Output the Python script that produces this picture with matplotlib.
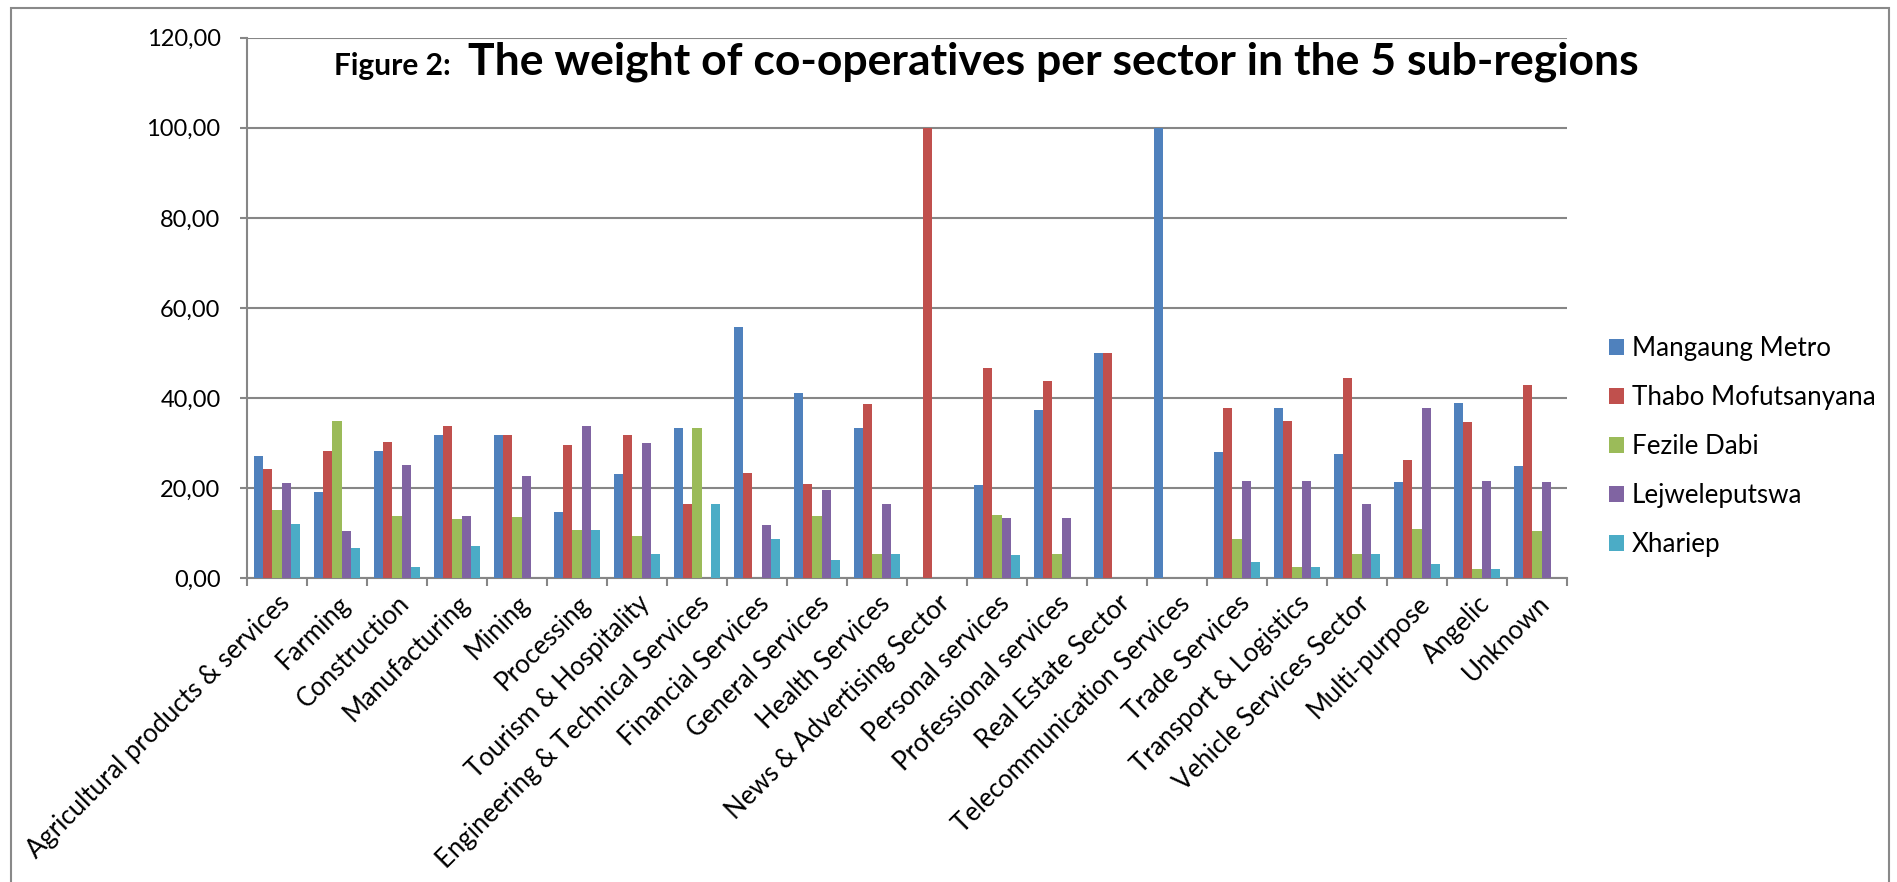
import numpy as np
import matplotlib
matplotlib.use('Agg')
import matplotlib.pyplot as plt
from matplotlib.patches import Rectangle
from matplotlib.ticker import FuncFormatter, MultipleLocator

plt.rcParams['font.family'] = ['Lato', 'DejaVu Sans']

# sectors along the x axis
categories = ['Agricultural products & services', 'Farming', 'Construction', 'Manufacturing',
              'Mining', 'Processing', 'Tourism & Hospitality', 'Engineering & Technical Services',
              'Financial Services', 'General Services', 'Health Services', 'News & Advertising Sector',
              'Personal services', 'Professional services', 'Real Estate Sector',
              'Telecommunication Services', 'Trade Services', 'Transport & Logistics',
              'Vehicle Services Sector', 'Multi-purpose', 'Angelic', 'Unknown']

# weight (%) per sub-region
mangaung = [27.1, 19.1, 28.2, 31.9, 31.7, 14.8, 23.1, 33.3, 55.8, 41.1, 33.3, 0,
            20.6, 37.3, 50.0, 100.0, 28.0, 37.8, 27.7, 21.4, 39.0, 24.9]
thabo = [24.2, 28.2, 30.2, 33.8, 31.7, 29.7, 31.8, 16.6, 23.4, 20.9, 38.8, 100.0,
         46.6, 43.9, 50.0, 0, 37.9, 35.0, 44.4, 26.2, 34.8, 42.8]
fezile = [15.1, 35.0, 13.8, 13.2, 13.6, 10.7, 9.5, 33.3, 0, 13.8, 5.5, 0,
          14.0, 5.3, 0, 0, 8.7, 2.6, 5.5, 10.9, 2.1, 10.6]
lejwe = [21.1, 10.6, 25.1, 13.8, 22.6, 33.7, 30.0, 0, 11.8, 19.7, 16.6, 0,
         13.3, 13.3, 0, 0, 21.6, 21.6, 16.6, 37.8, 21.7, 21.4]
xhariep = [12.1, 6.7, 2.4, 7.1, 0, 10.7, 5.4, 16.6, 8.7, 4.1, 5.5, 0,
           5.1, 0, 0, 0, 3.7, 2.6, 5.5, 3.2, 2.1, 0]

regions = ['Mangaung Metro', 'Thabo Mofutsanyana', 'Fezile Dabi', 'Lejweleputswa', 'Xhariep']
series = [mangaung, thabo, fezile, lejwe, xhariep]
colors = ['#4F81BD', '#C0504D', '#9BBB59', '#8064A2', '#4BACC6']

grey = '#868686'

fig = plt.figure(figsize=(18.97, 8.82), dpi=100)
ax = fig.add_axes([247 / 1897, 1 - 578.3 / 882, 1320 / 1897, 540.6 / 882])

x = np.arange(len(categories)) + 0.5
w = 0.152
for i, (vals, name, c) in enumerate(zip(series, regions, colors)):
    ax.bar(x + (i - 2) * w, vals, width=w, color=c, label=name, zorder=3)

ax.set_xlim(0, len(categories))
ax.set_ylim(0, 120)
ax.yaxis.set_major_locator(MultipleLocator(20))
ax.yaxis.set_major_formatter(FuncFormatter(lambda v, p: f'{v:.2f}'.replace('.', ',')))
ax.grid(axis='y', color=grey, lw=1.5, zorder=0)

# labels at the centres, tick marks on the category borders
ax.set_xticks(x)
ax.set_xticklabels(categories, rotation=45, ha='right', rotation_mode='anchor', fontsize=18.5)
ax.set_xticks(np.arange(len(categories) + 1), minor=True)
ax.tick_params(axis='x', which='major', length=0, pad=9)
ax.tick_params(axis='x', which='minor', length=6, width=1.5, color=grey)
ax.tick_params(axis='y', length=5, width=1.5, color=grey, pad=14, labelsize=17)

for s in ['top', 'right']:
    ax.spines[s].set_visible(False)
for s in ['left', 'bottom']:
    ax.spines[s].set_color(grey)
    ax.spines[s].set_linewidth(1.5)

ax.legend(loc='center left', bbox_to_anchor=(1609 / 1897, 1 - 446.5 / 882),
          bbox_transform=fig.transFigure, frameon=False, fontsize=18.7,
          handlelength=0.58, handleheight=0.58, handletextpad=0.3,
          labelspacing=0.92, borderpad=0, borderaxespad=0)

fig.text(334 / 1897, 1 - 75 / 882, 'Figure 2:', fontsize=21.5, fontweight='bold', va='baseline')
fig.text(468 / 1897, 1 - 75 / 882, 'The weight of co-operatives per sector in the 5 sub-regions',
         fontsize=32, fontweight='bold', va='baseline')

# outer chart border
fig.patches.append(Rectangle((11 / 1897, -0.05), 1878 / 1897, 1.05 - 8 / 882,
                             transform=fig.transFigure, fill=False, edgecolor='#898989', lw=1.5))

fig.savefig('out.png', dpi=100)
